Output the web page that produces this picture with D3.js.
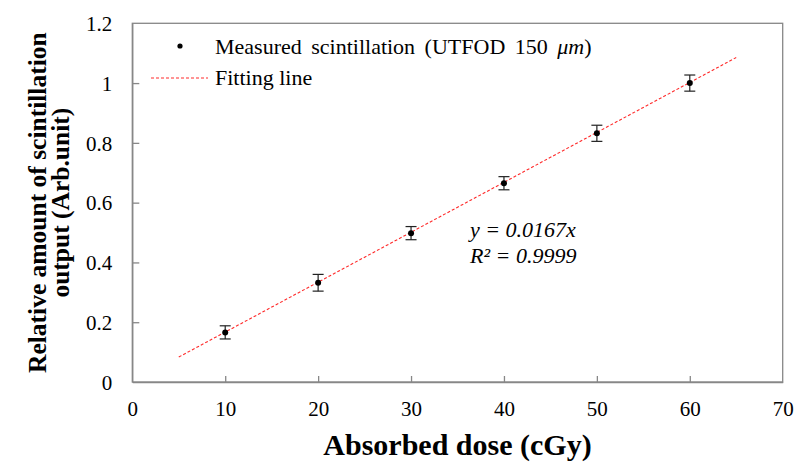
<!DOCTYPE html>
<html>
<head>
<meta charset="utf-8">
<script src="https://cdn.jsdelivr.net/npm/d3@7"></script>
<style>
  html, body { margin: 0; padding: 0; background: #fff; }
  svg { display: block; }
  svg text { font-family: "Liberation Serif", "Times New Roman", Times, serif; fill: #000; }
</style>
</head>
<body>
<svg id="chart" width="795" height="464"></svg>
<script>
// Absorbed dose (cGy) and relative scintillation output
const doses = [10, 20, 30, 40, 50, 60];
const outputs = [0.166, 0.332, 0.498, 0.665, 0.832, 1.0];
const errors = [0.022, 0.028, 0.022, 0.022, 0.027, 0.027];

// Linear fit y = slope * x, drawn over this dose range
const fitSlope = 0.0167;
const fitRange = [5, 65];

const xTicks = [0, 10, 20, 30, 40, 50, 60, 70];
const yTicks = [0, 0.2, 0.4, 0.6, 0.8, 1, 1.2];
const yTickLabels = ["0", "0.2", "0.4", "0.6", "0.8", "1", "1.2"];

const SERIF = "'Liberation Serif', 'Times New Roman', Times, serif";
const margin = { left: 132.3, right: 12.3, top: 23.3, bottom: 82 };
const W = 795, H = 464;
const svg = d3.select("#chart");

const x = d3.scaleLinear().domain([0, 70]).range([margin.left, W - margin.right]);
const y = d3.scaleLinear().domain([0, 1.2]).range([H - margin.bottom, margin.top]);

const axisColor = "#878787";

// Plot frame (top and right edges)
svg.append("rect")
  .attr("x", x(0)).attr("y", y(1.2))
  .attr("width", x(70) - x(0)).attr("height", y(0) - y(1.2))
  .attr("fill", "none").attr("stroke", axisColor).attr("stroke-width", 1.3);

// X axis with inward ticks
const xAxis = svg.append("g")
  .attr("transform", `translate(0,${y(0)})`)
  .call(d3.axisBottom(x).tickValues(xTicks).tickSizeInner(-6).tickSizeOuter(0).tickPadding(0).tickFormat(d3.format("d")));
xAxis.attr("font-family", SERIF).attr("font-size", 21);
xAxis.select(".domain").attr("stroke", axisColor).attr("stroke-width", 1.3);
xAxis.selectAll(".tick line").attr("stroke", axisColor).attr("stroke-width", 1.3);
xAxis.selectAll(".tick text")
  .attr("y", 34).attr("dy", 0)
  .style("font-family", SERIF).style("font-size", "21px")
  .attr("fill", "#000");

// Y axis with inward ticks
const yAxis = svg.append("g")
  .attr("transform", `translate(${x(0)},0)`)
  .call(d3.axisLeft(y).tickValues(yTicks).tickSizeInner(-7).tickSizeOuter(0).tickPadding(0)
    .tickFormat((d, i) => yTickLabels[i]));
yAxis.attr("font-family", SERIF).attr("font-size", 21);
yAxis.select(".domain").attr("stroke", axisColor).attr("stroke-width", 1.3);
yAxis.selectAll(".tick line").attr("stroke", axisColor).attr("stroke-width", 1.3);
yAxis.selectAll(".tick text")
  .attr("x", -20).attr("dy", "0.34em")
  .style("font-family", SERIF).style("font-size", "21px")
  .attr("fill", "#000");
// the frame already draws the end ticks' positions
xAxis.selectAll(".tick").filter(d => d === 0 || d === 70).select("line").remove();
yAxis.selectAll(".tick").filter(d => d === 0 || d === 1.2).select("line").remove();

// Fitting line
const fitColor = "#ff2a2a";
svg.append("line")
  .attr("x1", x(fitRange[0])).attr("y1", y(fitSlope * fitRange[0]))
  .attr("x2", x(fitRange[1])).attr("y2", y(fitSlope * fitRange[1]))
  .attr("stroke", fitColor).attr("stroke-width", 1.1)
  .attr("stroke-dasharray", "3,2");

// Error bars
const data = doses.map((d, i) => ({ dose: d, value: outputs[i], err: errors[i] }));
const eb = svg.append("g").attr("stroke", "#222").attr("stroke-width", 1.2);
data.forEach(d => {
  eb.append("line")
    .attr("x1", x(d.dose)).attr("x2", x(d.dose))
    .attr("y1", y(d.value + d.err)).attr("y2", y(d.value - d.err));
  [d.value + d.err, d.value - d.err].forEach(v => {
    eb.append("line")
      .attr("x1", x(d.dose) - 5.5).attr("x2", x(d.dose) + 5.5)
      .attr("y1", y(v)).attr("y2", y(v));
  });
});

// Measured points
svg.append("g").selectAll("circle")
  .data(data).join("circle")
  .attr("cx", d => x(d.dose)).attr("cy", d => y(d.value))
  .attr("r", 3).attr("fill", "#000");

// Legend
const legend = svg.append("g").attr("font-family", SERIF);
legend.append("circle").attr("cx", 180).attr("cy", 46).attr("r", 2.6).attr("fill", "#000");
const l1 = legend.append("text").attr("x", 215).attr("y", 53.5)
  .style("font-size", "22px").style("word-spacing", "4px");
l1.append("tspan").text("Measured scintillation (UTFOD 150 ");
l1.append("tspan").style("font-style", "italic").text("μm");
l1.append("tspan").text(")");
legend.append("line").attr("x1", 151).attr("x2", 208).attr("y1", 78).attr("y2", 78)
  .attr("stroke", fitColor).attr("stroke-width", 1).attr("stroke-dasharray", "3,2");
legend.append("text").attr("x", 215).attr("y", 85).style("font-size", "22px").text("Fitting line");

// Fit equation
const eq = svg.append("g").style("font-style", "italic").style("font-size", "22px");
eq.append("text").attr("x", 470).attr("y", 237).text(`y = ${fitSlope}x`);
eq.append("text").attr("x", 470).attr("y", 263).text("R² = 0.9999");

// Axis titles
svg.append("text")
  .attr("x", (x(0) + x(70)) / 2).attr("y", 455)
  .attr("text-anchor", "middle")
  .style("font-size", "30px").style("font-weight", "bold")
  .text("Absorbed dose (cGy)");

const yTitle = svg.append("text")
  .attr("transform", `translate(46,${(y(0) + y(1.2)) / 2}) rotate(-90)`)
  .attr("text-anchor", "middle")
  .style("font-size", "25.5px").style("font-weight", "bold");
yTitle.append("tspan").attr("x", 0).attr("y", 0).text("Relative amount of scintillation");
yTitle.append("tspan").attr("x", 0).attr("y", 23).text("output (Arb.unit)");
</script>
</body>
</html>
